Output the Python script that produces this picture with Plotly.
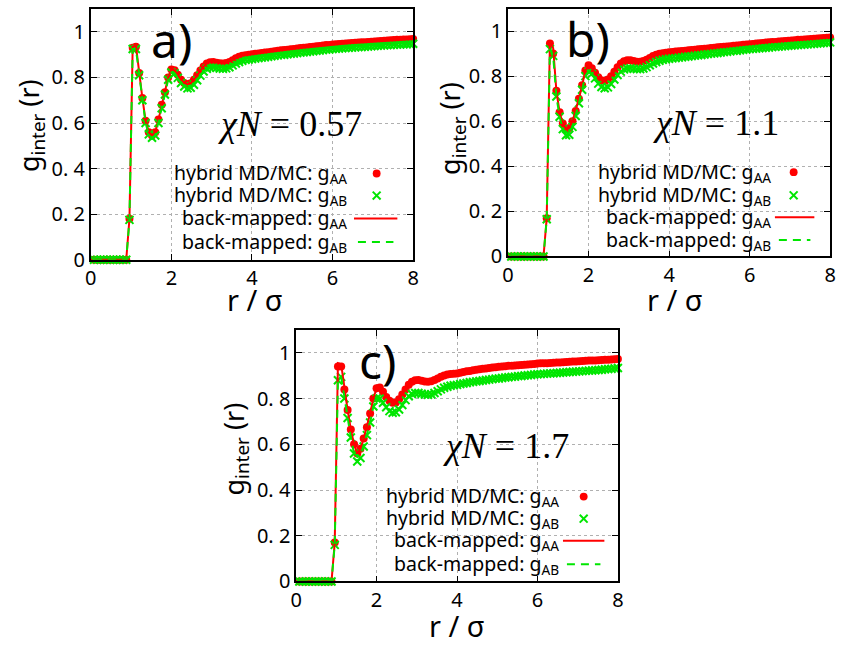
import plotly.graph_objects as go

W, H = 845, 651
RED = "#ff0000"
GREEN = "#00e600"

# ---------------- data ----------------
r = [0.08, 0.16, 0.24, 0.32, 0.40, 0.48, 0.56, 0.64, 0.72, 0.80,
     0.88, 0.96, 1.04, 1.12, 1.20, 1.28, 1.36, 1.44, 1.52, 1.60,
     1.68, 1.76, 1.84, 1.92, 2.00, 2.08, 2.16, 2.24, 2.32, 2.40,
     2.48, 2.56, 2.64, 2.72, 2.80, 2.88, 2.96, 3.04, 3.12, 3.20,
     3.28, 3.36, 3.44, 3.52, 3.60, 3.68, 3.76, 3.84, 3.92, 4.00,
     4.08, 4.16, 4.24, 4.32, 4.40, 4.48, 4.56, 4.64, 4.72, 4.80,
     4.88, 4.96, 5.04, 5.12, 5.20, 5.28, 5.36, 5.44, 5.52, 5.60,
     5.68, 5.76, 5.84, 5.92, 6.00, 6.08, 6.16, 6.24, 6.32, 6.40,
     6.48, 6.56, 6.64, 6.72, 6.80, 6.88, 6.96, 7.04, 7.12, 7.20,
     7.28, 7.36, 7.44, 7.52, 7.60, 7.68, 7.76, 7.84, 7.92, 8.00]

r_line = [0.08, 0.16, 0.24, 0.32, 0.40, 0.48, 0.56, 0.64, 0.72, 0.80,
          0.88, 0.96, 1.04, 1.12, 1.20, 1.28, 1.36, 1.44, 1.52, 1.60,
          1.68, 1.76, 1.84, 1.92, 2.00, 2.08, 2.16, 2.24, 2.32, 2.40,
          2.48, 2.56, 2.64, 2.72, 2.80, 2.88, 2.96, 3.04, 3.12, 3.20,
          3.28, 3.36, 3.44, 3.52, 3.60, 3.68, 3.76, 3.84, 3.92, 4.00,
          4.40, 4.80, 5.20, 5.60, 6.00, 6.40, 6.80, 7.20, 7.60, 8.00]

# panel a) chi N = 0.57
a_md_AA = [0, 0, 0, 0, 0, 0, 0, 0, 0, 0,
           0, 0.18, 0.93, 0.935, 0.82, 0.71, 0.61, 0.56, 0.545, 0.56,
           0.615, 0.68, 0.735, 0.80, 0.835, 0.832, 0.812, 0.79, 0.776, 0.77,
           0.775, 0.79, 0.81, 0.83, 0.848, 0.861, 0.867, 0.868, 0.865, 0.862,
           0.861, 0.863, 0.868, 0.876, 0.884, 0.891, 0.895, 0.898, 0.900, 0.902,
           0.904, 0.905, 0.907, 0.909, 0.911, 0.913, 0.915, 0.917, 0.919, 0.920,
           0.922, 0.924, 0.925, 0.927, 0.929, 0.930, 0.932, 0.934, 0.935, 0.937,
           0.938, 0.940, 0.942, 0.943, 0.945, 0.946, 0.947, 0.948, 0.949, 0.950,
           0.951, 0.952, 0.953, 0.954, 0.955, 0.956, 0.957, 0.958, 0.959, 0.960,
           0.961, 0.962, 0.963, 0.964, 0.965, 0.966, 0.967, 0.967, 0.968, 0.969]
a_md_AB = [0, 0, 0, 0, 0, 0, 0, 0, 0, 0,
           0, 0.175, 0.925, 0.925, 0.81, 0.70, 0.60, 0.55, 0.535, 0.545,
           0.60, 0.665, 0.725, 0.79, 0.822, 0.818, 0.798, 0.776, 0.760, 0.752,
           0.755, 0.768, 0.788, 0.808, 0.826, 0.838, 0.844, 0.845, 0.842, 0.839,
           0.838, 0.840, 0.845, 0.853, 0.861, 0.868, 0.873, 0.877, 0.879, 0.881,
           0.883, 0.885, 0.887, 0.889, 0.891, 0.893, 0.895, 0.897, 0.899, 0.900,
           0.902, 0.904, 0.905, 0.907, 0.909, 0.910, 0.912, 0.914, 0.915, 0.917,
           0.918, 0.920, 0.922, 0.923, 0.925, 0.926, 0.927, 0.928, 0.929, 0.930,
           0.931, 0.932, 0.933, 0.934, 0.935, 0.936, 0.937, 0.938, 0.939, 0.940,
           0.941, 0.942, 0.942, 0.943, 0.944, 0.945, 0.946, 0.946, 0.947, 0.948]
a_bm_AA = [0, 0, 0, 0, 0, 0, 0, 0, 0, 0,
           0, 0.18, 0.935, 0.94, 0.82, 0.71, 0.61, 0.56, 0.545, 0.56,
           0.615, 0.68, 0.735, 0.80, 0.835, 0.832, 0.812, 0.79, 0.776, 0.77,
           0.775, 0.79, 0.81, 0.83, 0.848, 0.861, 0.867, 0.868, 0.865, 0.862,
           0.861, 0.863, 0.868, 0.876, 0.884, 0.891, 0.895, 0.898, 0.900, 0.902,
           0.911, 0.920, 0.929, 0.937, 0.945, 0.950, 0.955, 0.960, 0.965, 0.969]
a_bm_AB = [0, 0, 0, 0, 0, 0, 0, 0, 0, 0,
           0, 0.175, 0.925, 0.925, 0.81, 0.70, 0.60, 0.55, 0.535, 0.545,
           0.60, 0.665, 0.725, 0.79, 0.822, 0.818, 0.798, 0.776, 0.760, 0.752,
           0.755, 0.768, 0.788, 0.808, 0.826, 0.838, 0.844, 0.845, 0.842, 0.839,
           0.838, 0.840, 0.845, 0.853, 0.861, 0.868, 0.873, 0.877, 0.879, 0.881,
           0.891, 0.900, 0.909, 0.917, 0.925, 0.930, 0.935, 0.940, 0.944, 0.948]

# panel b) chi N = 1.1
b_md_AA = [0, 0, 0, 0, 0, 0, 0, 0, 0, 0,
           0, 0.17, 0.945, 0.90, 0.735, 0.64, 0.59, 0.565, 0.57, 0.60,
           0.645, 0.70, 0.76, 0.825, 0.848, 0.835, 0.815, 0.795, 0.782, 0.779,
           0.785, 0.80, 0.82, 0.84, 0.856, 0.866, 0.870, 0.870, 0.867, 0.864,
           0.864, 0.867, 0.873, 0.881, 0.889, 0.895, 0.899, 0.902, 0.904, 0.906,
           0.907, 0.909, 0.910, 0.912, 0.913, 0.915, 0.916, 0.917, 0.919, 0.920,
           0.922, 0.923, 0.925, 0.926, 0.928, 0.929, 0.930, 0.932, 0.933, 0.935,
           0.936, 0.937, 0.939, 0.940, 0.942, 0.943, 0.945, 0.946, 0.947, 0.949,
           0.950, 0.951, 0.952, 0.954, 0.955, 0.956, 0.957, 0.958, 0.959, 0.961,
           0.962, 0.963, 0.964, 0.965, 0.966, 0.967, 0.968, 0.969, 0.970, 0.971]
b_md_AB = [0, 0, 0, 0, 0, 0, 0, 0, 0, 0,
           0, 0.165, 0.92, 0.89, 0.71, 0.62, 0.565, 0.538, 0.54, 0.575,
           0.623, 0.68, 0.74, 0.80, 0.82, 0.81, 0.79, 0.767, 0.752, 0.746,
           0.75, 0.765, 0.785, 0.805, 0.82, 0.83, 0.834, 0.835, 0.833, 0.831,
           0.831, 0.834, 0.840, 0.848, 0.856, 0.863, 0.868, 0.872, 0.875, 0.877,
           0.879, 0.880, 0.882, 0.884, 0.886, 0.887, 0.889, 0.891, 0.893, 0.894,
           0.896, 0.898, 0.900, 0.901, 0.903, 0.905, 0.907, 0.908, 0.910, 0.912,
           0.913, 0.915, 0.917, 0.918, 0.920, 0.921, 0.922, 0.924, 0.925, 0.926,
           0.927, 0.929, 0.930, 0.931, 0.932, 0.933, 0.935, 0.936, 0.937, 0.938,
           0.939, 0.940, 0.941, 0.942, 0.943, 0.945, 0.946, 0.947, 0.948, 0.950]
b_bm_AA = [0, 0, 0, 0, 0, 0, 0, 0, 0, 0,
           0, 0.17, 0.955, 0.925, 0.735, 0.64, 0.59, 0.565, 0.57, 0.60,
           0.645, 0.70, 0.76, 0.825, 0.848, 0.835, 0.815, 0.795, 0.782, 0.779,
           0.785, 0.80, 0.82, 0.84, 0.856, 0.866, 0.870, 0.870, 0.867, 0.864,
           0.864, 0.867, 0.873, 0.881, 0.889, 0.895, 0.899, 0.902, 0.904, 0.906,
           0.913, 0.920, 0.928, 0.935, 0.942, 0.949, 0.955, 0.961, 0.966, 0.971]
b_bm_AB = [0, 0, 0, 0, 0, 0, 0, 0, 0, 0,
           0, 0.165, 0.92, 0.89, 0.71, 0.62, 0.565, 0.538, 0.54, 0.575,
           0.623, 0.68, 0.74, 0.80, 0.82, 0.81, 0.79, 0.767, 0.752, 0.746,
           0.75, 0.765, 0.785, 0.805, 0.82, 0.83, 0.834, 0.835, 0.833, 0.831,
           0.831, 0.834, 0.840, 0.848, 0.856, 0.863, 0.868, 0.872, 0.875, 0.877,
           0.886, 0.894, 0.903, 0.912, 0.920, 0.926, 0.932, 0.938, 0.943, 0.950]

# panel c) chi N = 1.7
c_md_AA = [0, 0, 0, 0, 0, 0, 0, 0, 0, 0,
           0, 0.17, 0.94, 0.94, 0.84, 0.75, 0.665, 0.60, 0.56, 0.58,
           0.625, 0.675, 0.735, 0.80, 0.845, 0.848, 0.83, 0.807, 0.79, 0.782,
           0.783, 0.797, 0.818, 0.84, 0.86, 0.874, 0.880, 0.881, 0.878, 0.875,
           0.874, 0.876, 0.881, 0.888, 0.895, 0.901, 0.905, 0.907, 0.909, 0.910,
           0.913, 0.916, 0.919, 0.921, 0.924, 0.926, 0.928, 0.930, 0.932, 0.934,
           0.936, 0.937, 0.939, 0.940, 0.941, 0.943, 0.944, 0.945, 0.946, 0.947,
           0.948, 0.949, 0.950, 0.951, 0.953, 0.954, 0.955, 0.955, 0.956, 0.957,
           0.958, 0.958, 0.959, 0.960, 0.961, 0.962, 0.962, 0.963, 0.964, 0.965,
           0.966, 0.966, 0.967, 0.968, 0.969, 0.970, 0.970, 0.971, 0.972, 0.973]
c_md_AB = [0, 0, 0, 0, 0, 0, 0, 0, 0, 0,
           0, 0.16, 0.88, 0.895, 0.80, 0.715, 0.63, 0.56, 0.525, 0.54,
           0.59, 0.64, 0.695, 0.765, 0.80, 0.80, 0.782, 0.762, 0.745, 0.738,
           0.740, 0.752, 0.772, 0.793, 0.810, 0.820, 0.824, 0.824, 0.821, 0.818,
           0.817, 0.819, 0.824, 0.832, 0.840, 0.847, 0.852, 0.856, 0.858, 0.860,
           0.863, 0.866, 0.868, 0.871, 0.873, 0.875, 0.877, 0.879, 0.881, 0.883,
           0.885, 0.887, 0.888, 0.890, 0.892, 0.893, 0.895, 0.896, 0.898, 0.899,
           0.901, 0.902, 0.903, 0.905, 0.906, 0.907, 0.908, 0.909, 0.910, 0.911,
           0.912, 0.913, 0.914, 0.915, 0.916, 0.917, 0.918, 0.919, 0.920, 0.921,
           0.922, 0.923, 0.924, 0.925, 0.926, 0.928, 0.929, 0.930, 0.932, 0.934]
c_bm_AA = [0, 0, 0, 0, 0, 0, 0, 0, 0, 0,
           0, 0.17, 0.955, 0.95, 0.84, 0.75, 0.665, 0.60, 0.56, 0.58,
           0.625, 0.675, 0.735, 0.80, 0.845, 0.848, 0.83, 0.807, 0.79, 0.782,
           0.783, 0.797, 0.818, 0.84, 0.86, 0.874, 0.880, 0.881, 0.878, 0.875,
           0.874, 0.876, 0.881, 0.888, 0.895, 0.901, 0.905, 0.907, 0.909, 0.910,
           0.924, 0.934, 0.941, 0.947, 0.953, 0.957, 0.961, 0.965, 0.969, 0.973]
c_bm_AB = [0, 0, 0, 0, 0, 0, 0, 0, 0, 0,
           0, 0.16, 0.88, 0.895, 0.80, 0.715, 0.63, 0.56, 0.525, 0.54,
           0.59, 0.64, 0.695, 0.765, 0.80, 0.80, 0.782, 0.762, 0.745, 0.738,
           0.740, 0.752, 0.772, 0.793, 0.810, 0.820, 0.824, 0.824, 0.821, 0.818,
           0.817, 0.819, 0.824, 0.832, 0.840, 0.847, 0.852, 0.856, 0.858, 0.860,
           0.873, 0.883, 0.892, 0.899, 0.906, 0.911, 0.916, 0.921, 0.926, 0.934]

x_ticks = [0, 2, 4, 6, 8]
x_ticklabels = ["0", "2", "4", "6", "8"]
y_ticks = [0, 0.2, 0.4, 0.6, 0.8, 1.0]
y_ticklabels = ["0", "0. 2", "0. 4", "0. 6", "0. 8", "1"]
panel_labels = ["a)", "b)", "c)"]
chiN_labels = ["0.57", "1.1", "1.7"]
legend_texts = ["hybrid MD/MC: g<sub>AA</sub>", "hybrid MD/MC: g<sub>AB</sub>",
                "back-mapped: g<sub>AA</sub>", "back-mapped: g<sub>AB</sub>"]

# ---------------- layout (pixel geometry) ----------------
def px(x):
    return x / W

def py(y):
    return 1 - y / H

panels = [
    dict(md_AA=a_md_AA, md_AB=a_md_AB, bm_AA=a_bm_AA, bm_AB=a_bm_AB,
         frame=(86, 413, 9.3, 265), label_xy=(145, 40), chi_xy=(288, 127),
         leg_right=348, leg_key_x=376, leg_line=(353, 397),
         leg_y=(177, 199.5, 223, 247), xtitle=(253, 306), ytitle=(25, 128)),
    dict(md_AA=b_md_AA, md_AB=b_md_AB, bm_AA=b_bm_AA, bm_AB=b_bm_AB,
         frame=(509.3, 836, 8.7, 261.7), label_xy=(566, 39), chi_xy=(720, 126),
         leg_right=778, leg_key_x=799, leg_line=(780, 820),
         leg_y=(175.7, 199.3, 221.7, 245), xtitle=(679, 306), ytitle=(452, 131)),
    dict(md_AA=c_md_AA, md_AB=c_md_AB, bm_AA=c_bm_AA, bm_AB=c_bm_AB,
         frame=(294.3, 620.7, 336.7, 593.3), label_xy=(356, 368), chi_xy=(507, 455),
         leg_right=563, leg_key_x=586, leg_line=(565, 607),
         leg_y=(506.7, 529.3, 551.7, 575.7), xtitle=(457, 638), ytitle=(233, 458)),
]

fig = go.Figure()
annotations = []
shapes = []
TXT = "Noto Sans"

for k, p in enumerate(panels, start=1):
    xa = "x" if k == 1 else f"x{k}"
    ya = "y" if k == 1 else f"y{k}"
    fig.add_trace(go.Scatter(x=r, y=p["md_AA"], mode="markers", xaxis=xa, yaxis=ya,
                             marker=dict(symbol="circle", size=8, color=RED),
                             cliponaxis=False, showlegend=False))
    fig.add_trace(go.Scatter(x=r, y=p["md_AB"], mode="markers", xaxis=xa, yaxis=ya,
                             marker=dict(symbol="x-thin", size=8, color=GREEN,
                                         line=dict(color=GREEN, width=2)),
                             cliponaxis=False, showlegend=False))
    fig.add_trace(go.Scatter(x=r_line, y=p["bm_AA"], mode="lines", xaxis=xa, yaxis=ya,
                             line=dict(color=RED, width=2),
                             cliponaxis=False, showlegend=False))
    fig.add_trace(go.Scatter(x=r_line, y=p["bm_AB"], mode="lines", xaxis=xa, yaxis=ya,
                             line=dict(color=GREEN, width=2, dash="8px,6px"),
                             cliponaxis=False, showlegend=False))

    x0, x1, yt, yb = p["frame"]
    common = dict(showline=True, linecolor="black", linewidth=1.5, mirror="allticks",
                  ticks="inside", ticklen=6, tickwidth=1, tickcolor="black",
                  showgrid=True, gridcolor="#b0b0b0", griddash="dot", gridwidth=1,
                  zeroline=False, tickfont=dict(family=TXT, size=20, color="black"))
    fig.layout[f"xaxis{'' if k == 1 else k}"] = dict(
        common, domain=[px(x0), px(x1)], range=[0, 8], anchor=ya,
        tickvals=x_ticks, ticktext=x_ticklabels)
    fig.layout[f"yaxis{'' if k == 1 else k}"] = dict(
        common, domain=[py(yb), py(yt)], range=[0, 1.1], anchor=xa,
        tickvals=y_ticks, ticktext=y_ticklabels)

    # panel label
    lx, ly = p["label_xy"]
    annotations.append(dict(x=px(lx), y=py(ly), xref="paper", yref="paper",
                            text=panel_labels[k - 1], showarrow=False,
                            xanchor="left", yanchor="middle",
                            font=dict(family=TXT, size=48, color="black")))
    # chi N
    cx, cy = p["chi_xy"]
    annotations.append(dict(x=px(cx), y=py(cy), xref="paper", yref="paper",
                            text=f"<i>χN</i> = {chiN_labels[k - 1]}", showarrow=False,
                            xanchor="center", yanchor="middle",
                            font=dict(family="Liberation Serif", size=36, color="black")))
    # axis titles
    tx, ty = p["xtitle"]
    annotations.append(dict(x=px(tx), y=py(ty), xref="paper", yref="paper",
                            text="r / σ", showarrow=False, xanchor="center", yanchor="middle",
                            font=dict(family=TXT, size=29, color="black")))
    tx, ty = p["ytitle"]
    annotations.append(dict(x=px(tx), y=py(ty), xref="paper", yref="paper",
                            text="g<sub>inter</sub> (r)", showarrow=False, textangle=-90,
                            xanchor="center", yanchor="middle",
                            font=dict(family=TXT, size=27, color="black")))
    # legend
    for j, t in enumerate(legend_texts):
        annotations.append(dict(x=px(p["leg_right"]), y=py(p["leg_y"][j]), xref="paper",
                                yref="paper", text=t, showarrow=False,
                                xanchor="right", yanchor="middle",
                                font=dict(family=TXT, size=19.5, color="black")))
    kx = p["leg_key_x"]
    ky0, ky1, ky2, ky3 = p["leg_y"]
    rad = 4
    shapes.append(dict(type="circle", xref="paper", yref="paper",
                       x0=px(kx - rad), x1=px(kx + rad), y0=py(ky0 + rad), y1=py(ky0 - rad),
                       fillcolor=RED, line=dict(color=RED, width=0)))
    for sgn in (1, -1):
        shapes.append(dict(type="line", xref="paper", yref="paper",
                           x0=px(kx - rad), x1=px(kx + rad),
                           y0=py(ky1 - sgn * rad), y1=py(ky1 + sgn * rad),
                           line=dict(color=GREEN, width=2)))
    lx0, lx1 = p["leg_line"]
    shapes.append(dict(type="line", xref="paper", yref="paper",
                       x0=px(lx0), x1=px(lx1), y0=py(ky2), y1=py(ky2),
                       line=dict(color=RED, width=2)))
    shapes.append(dict(type="line", xref="paper", yref="paper",
                       x0=px(lx0 + 4), x1=px(lx1 - 4), y0=py(ky3), y1=py(ky3),
                       line=dict(color=GREEN, width=2, dash="8px,6px")))

fig.update_layout(width=W, height=H, autosize=False,
                  margin=dict(l=0, r=0, t=0, b=0, pad=0),
                  paper_bgcolor="white", plot_bgcolor="white",
                  showlegend=False, annotations=annotations, shapes=shapes)

fig.write_html("out.html", config={"displayModeBar": False},
               post_script="document.body.style.margin='0px';document.body.style.padding='0px';")
